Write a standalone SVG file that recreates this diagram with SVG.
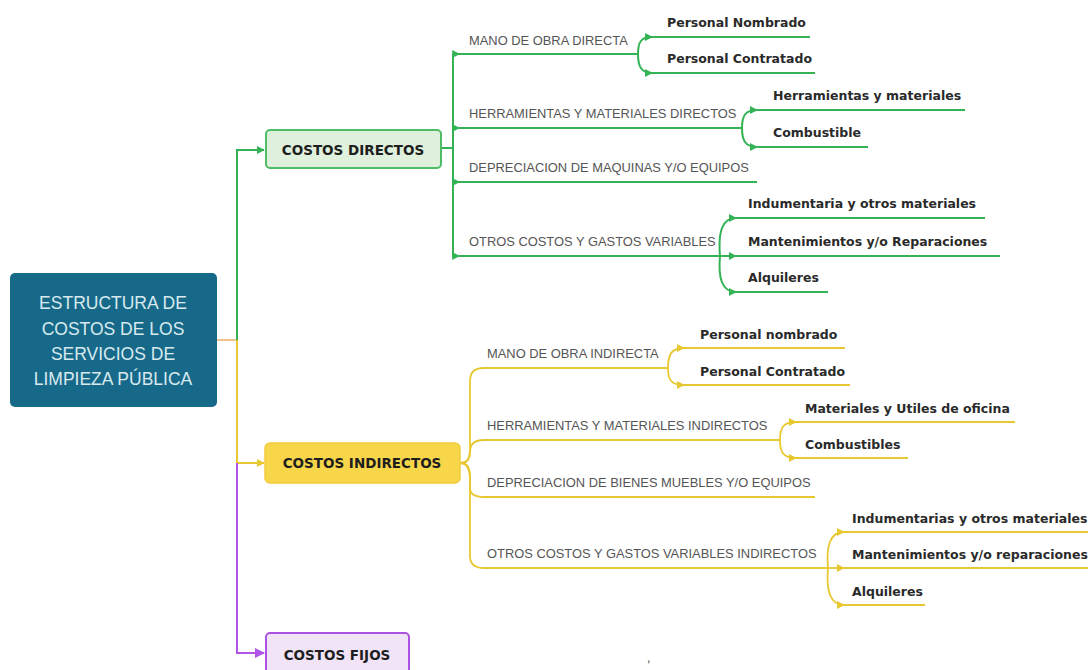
<svg xmlns="http://www.w3.org/2000/svg" width="1088" height="670" viewBox="0 0 1088 670">
<defs>
<marker id="ag" viewBox="0 0 10 10" refX="9" refY="5" markerWidth="8" markerHeight="8" markerUnits="userSpaceOnUse" orient="auto"><path d="M0,0 L10,5 L0,10 z" fill="#34b356"/></marker>
<marker id="ags" viewBox="0 0 10 10" refX="1" refY="5" markerWidth="8" markerHeight="8" markerUnits="userSpaceOnUse" orient="auto"><path d="M0,0 L10,5 L0,10 z" fill="#34b356"/></marker>
<marker id="ay" viewBox="0 0 10 10" refX="9" refY="5" markerWidth="8" markerHeight="8" markerUnits="userSpaceOnUse" orient="auto"><path d="M0,0 L10,5 L0,10 z" fill="#e8c832"/></marker>
<marker id="ap" viewBox="0 0 10 10" refX="9" refY="5" markerWidth="10" markerHeight="10" markerUnits="userSpaceOnUse" orient="auto"><path d="M0,0 L10,5 L0,10 z" fill="#b055e6"/></marker>
</defs>
<style>
.g{fill:none;stroke:#34b356;stroke-width:2}
.y{fill:none;stroke:#e8c832;stroke-width:1.8}
.p{fill:none;stroke:#b055e6;stroke-width:2}
.lab{font-family:"Liberation Sans",Arial,sans-serif;font-size:12.9px;fill:#555555}
.leaf{font-family:"DejaVu Sans",Verdana,sans-serif;font-weight:bold;font-size:12.5px;fill:#2a2a2a}
.box{font-family:"DejaVu Sans",Verdana,sans-serif;font-weight:bold;font-size:13.5px;fill:#1e1e1e;text-anchor:middle}
.root{font-family:"Liberation Sans",Arial,sans-serif;font-size:17.5px;fill:#d8eaee;text-anchor:middle}
</style>
<rect width="1088" height="670" fill="#ffffff"/>

<g id="connectors">
<path d="M217,340 H237" fill="none" stroke="#f2c28f" stroke-width="2"/>
<path class="g" d="M237,340 V150 H264" marker-end="url(#ag)"/>
<path class="y" d="M237,340 V463 H264" marker-end="url(#ay)" style="stroke-width:2"/>
<path class="p" d="M237,463 V653 H264" marker-end="url(#ap)"/>

<path class="g" d="M441,148 H453"/>
<path class="g" d="M453,54 V257"/>
<path class="g" d="M453,54 H638" marker-start="url(#ags)"/>
<path class="g" d="M453,128 H742" marker-start="url(#ags)"/>
<path class="g" d="M453,182 H757" marker-start="url(#ags)"/>
<path class="g" d="M453,256 H720" marker-start="url(#ags)"/>

<path class="g" d="M638,54 C638,42 641,37 652,37" marker-end="url(#ag)"/>
<path class="g" d="M638,54 C638,66 641,73 652,73" marker-end="url(#ag)"/>
<path class="g" d="M652,37 H810"/>
<path class="g" d="M652,73 H815"/>

<path class="g" d="M742,128 C742,116 745,110 757,110" marker-end="url(#ag)"/>
<path class="g" d="M742,128 C742,140 745,147 757,147" marker-end="url(#ag)"/>
<path class="g" d="M757,110 H965"/>
<path class="g" d="M757,147 H868"/>

<path class="g" d="M720,256 C718,232 722,218 736,218" marker-end="url(#ag)"/>
<path class="g" d="M720,256 H736" marker-end="url(#ag)"/>
<path class="g" d="M720,256 C718,278 722,292 736,292" marker-end="url(#ag)"/>
<path class="g" d="M736,218 H985"/>
<path class="g" d="M736,256 H1000"/>
<path class="g" d="M736,292 H828"/>

<path class="y" d="M460,463 C468,463 470,458 470,448 V382 C470,372 474,368 484,368 H668"/>
<path class="y" d="M460,463 C468,463 470,458 470,452 C470,444 474,440 484,440 H780"/>
<path class="y" d="M460,463 C468,463 470,468 470,478 V488 C470,494 474,497 484,497 H815"/>
<path class="y" d="M460,463 C468,463 470,470 470,480 V556 C470,564 474,568 484,568 H828"/>

<path class="y" d="M668,368 C668,355 671,348 684,348" marker-end="url(#ay)"/>
<path class="y" d="M668,368 C668,380 671,385 684,385" marker-end="url(#ay)"/>
<path class="y" d="M684,348 H845"/>
<path class="y" d="M684,385 H850"/>

<path class="y" d="M780,440 C780,428 783,422 796,422" marker-end="url(#ay)"/>
<path class="y" d="M780,440 C780,452 783,458 796,458" marker-end="url(#ay)"/>
<path class="y" d="M796,422 H1015"/>
<path class="y" d="M796,458 H908"/>

<path class="y" d="M828,568 C826,546 830,532 844,532" marker-end="url(#ay)"/>
<path class="y" d="M828,568 H844" marker-end="url(#ay)"/>
<path class="y" d="M828,568 C826,590 830,605 844,605" marker-end="url(#ay)"/>
<path class="y" d="M844,532 H1088"/>
<path class="y" d="M844,568 H1088"/>
<path class="y" d="M844,605 H925"/>
</g>

<g id="root">
<rect x="10" y="273" width="207" height="134" rx="5" fill="#17698a"/>
<text class="root" x="113" y="309">ESTRUCTURA DE</text>
<text class="root" x="113" y="335">COSTOS DE LOS</text>
<text class="root" x="113" y="360">SERVICIOS DE</text>
<text class="root" x="113" y="385">LIMPIEZA PÚBLICA</text>
</g>

<g id="costos-directos">
<rect x="266" y="130" width="175" height="38" rx="4" fill="#dff0dc" stroke="#4fbd66" stroke-width="2"/>
<text class="box" x="353" y="155">COSTOS DIRECTOS</text>
</g>
<g id="costos-indirectos">
<rect x="265" y="443" width="195" height="40" rx="5" fill="#f8d64a" stroke="#f2cc3c" stroke-width="1.5"/>
<text class="box" x="362" y="468">COSTOS INDIRECTOS</text>
</g>
<g id="costos-fijos">
<rect x="266" y="633" width="143" height="40" rx="4" fill="#f1e4f7" stroke="#ab52e2" stroke-width="2"/>
<text class="box" x="337" y="660">COSTOS FIJOS</text>
</g>

<g id="directos-ramas">
<text class="lab" x="469" y="45">MANO DE OBRA DIRECTA</text>
<text class="lab" x="469" y="118">HERRAMIENTAS Y MATERIALES DIRECTOS</text>
<text class="lab" x="469" y="172">DEPRECIACION DE MAQUINAS Y/O EQUIPOS</text>
<text class="lab" x="469" y="246">OTROS COSTOS Y GASTOS VARIABLES</text>
</g>
<g id="directos-hojas">
<text class="leaf" x="667" y="27">Personal Nombrado</text>
<text class="leaf" x="667" y="63">Personal Contratado</text>
<text class="leaf" x="773" y="100">Herramientas y materiales</text>
<text class="leaf" x="773" y="137">Combustible</text>
<text class="leaf" x="748" y="208">Indumentaria y otros materiales</text>
<text class="leaf" x="748" y="246">Mantenimientos y/o Reparaciones</text>
<text class="leaf" x="748" y="282">Alquileres</text>
</g>

<g id="indirectos-ramas">
<text class="lab" x="487" y="358">MANO DE OBRA INDIRECTA</text>
<text class="lab" x="487" y="430">HERRAMIENTAS Y MATERIALES INDIRECTOS</text>
<text class="lab" x="487" y="487">DEPRECIACION DE BIENES MUEBLES Y/O EQUIPOS</text>
<text class="lab" x="487" y="558">OTROS COSTOS Y GASTOS VARIABLES INDIRECTOS</text>
</g>
<g id="indirectos-hojas">
<text class="leaf" x="700" y="339">Personal nombrado</text>
<text class="leaf" x="700" y="376">Personal Contratado</text>
<text class="leaf" x="805" y="413">Materiales y Utiles de oficina</text>
<text class="leaf" x="805" y="449">Combustibles</text>
<text class="leaf" x="852" y="523">Indumentarias y otros materiales</text>
<text class="leaf" x="852" y="559">Mantenimientos y/o reparaciones</text>
<text class="leaf" x="852" y="596">Alquileres</text>
</g>
<text x="647" y="662" font-family="Liberation Sans, Arial, sans-serif" font-size="12" fill="#444">,</text>
</svg>
